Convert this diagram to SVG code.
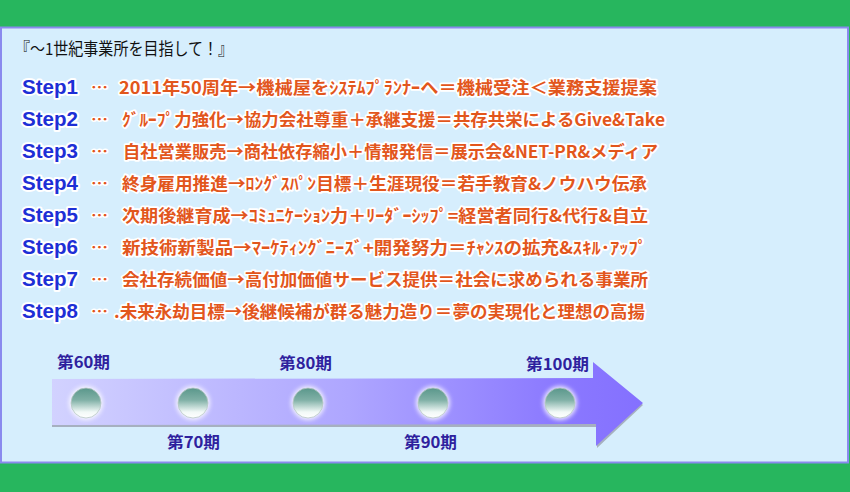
<svg xmlns="http://www.w3.org/2000/svg" width="850" height="492" viewBox="0 0 850 492">
<defs>
<style>
.title{font-family:"Noto Sans CJK JP","Liberation Sans",sans-serif;font-size:16.5px;fill:#111;}
.step{font-family:"Liberation Sans","Noto Sans CJK JP",sans-serif;font-weight:bold;font-size:20px;fill:#1E2FD6;stroke:#fff;stroke-width:4;stroke-linejoin:round;paint-order:stroke;}
.dots{font-family:"Noto Sans CJK JP",sans-serif;font-weight:bold;font-size:15px;fill:#E2541C;stroke:#fff;stroke-width:3;stroke-linejoin:round;paint-order:stroke;}
.desc{font-family:"Noto Sans CJK JP","Liberation Sans",sans-serif;font-weight:bold;font-size:16.5px;fill:#E2561C;stroke:#fff;stroke-width:3.5;stroke-linejoin:round;paint-order:stroke;}
.period{font-family:"Noto Sans CJK JP","Liberation Sans",sans-serif;font-weight:bold;font-size:15.5px;fill:#2E219E;}
</style>
<linearGradient id="band" x1="52" y1="0" x2="645" y2="0" gradientUnits="userSpaceOnUse">
<stop offset="0" stop-color="#D2D2FF"/>
<stop offset="0.5" stop-color="#AEA6FF"/>
<stop offset="0.85" stop-color="#8B79FF"/>
<stop offset="1" stop-color="#8470FF"/>
</linearGradient>
<linearGradient id="ball" x1="0" y1="0" x2="0" y2="1">
<stop offset="0" stop-color="#5A978B"/>
<stop offset="0.4" stop-color="#80B0A6"/>
<stop offset="0.8" stop-color="#F2F9F7"/>
<stop offset="1" stop-color="#FFFFFF"/>
</linearGradient>
<filter id="glow" x="-50%" y="-50%" width="200%" height="200%">
<feGaussianBlur stdDeviation="2"/>
</filter>
<g id="ballshape">
<circle r="17" fill="#fff" opacity="0.8" filter="url(#glow)"/>
<circle r="15" fill="url(#ball)" stroke="#B8C8C4" stroke-width="0.8"/>
</g>
</defs>

<rect x="0" y="0" width="850" height="492" fill="#27B65E"/>
<rect x="1" y="27.5" width="847" height="435" fill="#D6EEFD" stroke="#8A8AEE" stroke-width="2"/>

<g id="title">
<text class="title" x="15" y="55" textLength="218" lengthAdjust="spacingAndGlyphs">『〜1世紀事業所を目指して！』</text>
</g>

<g id="step1">
<text class="step" x="22" y="94" textLength="56" lengthAdjust="spacingAndGlyphs">Step1</text>
<text class="dots" x="91" y="93" textLength="17" lengthAdjust="spacingAndGlyphs">…</text>
<text class="desc" x="119" y="94" textLength="538" lengthAdjust="spacingAndGlyphs">2011年50周年→機械屋をｼｽﾃﾑﾌﾟﾗﾝﾅｰへ＝機械受注＜業務支援提案</text>
</g>
<g id="step2">
<text class="step" x="22" y="126" textLength="56" lengthAdjust="spacingAndGlyphs">Step2</text>
<text class="dots" x="91" y="125" textLength="17" lengthAdjust="spacingAndGlyphs">…</text>
<text class="desc" x="122" y="126" textLength="543" lengthAdjust="spacingAndGlyphs">ｸﾞﾙｰﾌﾟ力強化→協力会社尊重＋承継支援＝共存共栄によるGive&amp;Take</text>
</g>
<g id="step3">
<text class="step" x="22" y="158" textLength="56" lengthAdjust="spacingAndGlyphs">Step3</text>
<text class="dots" x="91" y="157" textLength="17" lengthAdjust="spacingAndGlyphs">…</text>
<text class="desc" x="123" y="158" textLength="535" lengthAdjust="spacingAndGlyphs">自社営業販売→商社依存縮小＋情報発信＝展示会&amp;NET-PR&amp;メディア</text>
</g>
<g id="step4">
<text class="step" x="22" y="190" textLength="56" lengthAdjust="spacingAndGlyphs">Step4</text>
<text class="dots" x="91" y="189" textLength="17" lengthAdjust="spacingAndGlyphs">…</text>
<text class="desc" x="122" y="190" textLength="525" lengthAdjust="spacingAndGlyphs">終身雇用推進→ﾛﾝｸﾞｽﾊﾟﾝ目標＋生涯現役＝若手教育&amp;ノウハウ伝承</text>
</g>
<g id="step5">
<text class="step" x="22" y="222" textLength="56" lengthAdjust="spacingAndGlyphs">Step5</text>
<text class="dots" x="91" y="221" textLength="17" lengthAdjust="spacingAndGlyphs">…</text>
<text class="desc" x="122" y="222" textLength="526" lengthAdjust="spacingAndGlyphs">次期後継育成→ｺﾐｭﾆｹｰｼｮﾝ力＋ﾘｰﾀﾞｰｼｯﾌﾟ=経営者同行&amp;代行&amp;自立</text>
</g>
<g id="step6">
<text class="step" x="22" y="254" textLength="56" lengthAdjust="spacingAndGlyphs">Step6</text>
<text class="dots" x="91" y="253" textLength="17" lengthAdjust="spacingAndGlyphs">…</text>
<text class="desc" x="122" y="254" textLength="525" lengthAdjust="spacingAndGlyphs">新技術新製品→ﾏｰｹﾃｨﾝｸﾞﾆｰｽﾞ+開発努力＝ﾁｬﾝｽの拡充&amp;ｽｷﾙ･ｱｯﾌﾟ</text>
</g>
<g id="step7">
<text class="step" x="22" y="286" textLength="56" lengthAdjust="spacingAndGlyphs">Step7</text>
<text class="dots" x="91" y="285" textLength="17" lengthAdjust="spacingAndGlyphs">…</text>
<text class="desc" x="122" y="286" textLength="526" lengthAdjust="spacingAndGlyphs">会社存続価値→高付加価値サービス提供＝社会に求められる事業所</text>
</g>
<g id="step8">
<text class="step" x="22" y="318" textLength="56" lengthAdjust="spacingAndGlyphs">Step8</text>
<text class="dots" x="91" y="317" textLength="17" lengthAdjust="spacingAndGlyphs">…</text>
<text class="desc" x="114" y="318" textLength="531" lengthAdjust="spacingAndGlyphs">.未来永劫目標→後継候補が群る魅力造り＝夢の実現化と理想の高揚</text>
</g>

<g id="timeline">
<path d="M52,381 L594,380 L594,365 L643,405 L597,448 L597,427 L52,427 Z" fill="#9AA0B0" opacity="0.8"/>
<path d="M52,379 L593,378 L593,362 L643,403 L596,446 L596,424 L52,425 Z" fill="url(#band)"/>
<use href="#ballshape" x="86" y="403"/>
<use href="#ballshape" x="193" y="403"/>
<use href="#ballshape" x="308" y="403"/>
<use href="#ballshape" x="433" y="403"/>
<use href="#ballshape" x="560" y="403"/>
</g>

<g id="p60"><text class="period" x="57" y="368" textLength="53" lengthAdjust="spacingAndGlyphs">第60期</text></g>
<g id="p70"><text class="period" x="167" y="448" textLength="53" lengthAdjust="spacingAndGlyphs">第70期</text></g>
<g id="p80"><text class="period" x="279" y="369" textLength="53" lengthAdjust="spacingAndGlyphs">第80期</text></g>
<g id="p90"><text class="period" x="404" y="448" textLength="53" lengthAdjust="spacingAndGlyphs">第90期</text></g>
<g id="p100"><text class="period" x="526" y="370" textLength="63" lengthAdjust="spacingAndGlyphs">第100期</text></g>
<g id="connectors"></g>
</svg>
